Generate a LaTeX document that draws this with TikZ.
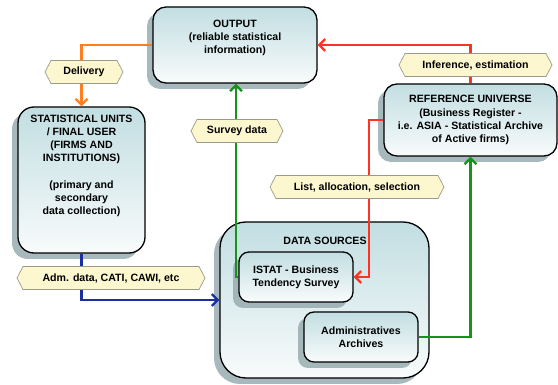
\documentclass[tikz,border=0pt]{standalone}
\usepackage{fontspec}
\setmainfont{Liberation Sans}
\usetikzlibrary{shapes.symbols,shadows,arrows.meta}
\definecolor{boxtop}{HTML}{C2DEE2}
\definecolor{boxbot}{HTML}{F8FBFB}
\definecolor{shad}{HTML}{98ADB0}
\definecolor{hexfill}{HTML}{FDF7CF}
\definecolor{hexline}{HTML}{9A9A8A}
\definecolor{corange}{HTML}{FF7F1E}
\definecolor{cred}{HTML}{FF3322}
\definecolor{cgreen}{HTML}{17921A}
\definecolor{cblue}{HTML}{1B2FA3}
\tikzset{
  box/.style={draw=black, line width=1.3pt, top color=boxtop, bottom color=boxbot,
    drop shadow={shadow xshift=-6pt, shadow yshift=-6pt, fill=shad, opacity=0.85},
    inner sep=0pt},
  txt/.style={font=\fontsize{10.6}{13.2}\selectfont\bfseries, align=center, inner sep=0pt},
  hex/.style={signal, signal to=east and west, signal pointer angle=125,
    draw=hexline, line width=0.7pt, fill=hexfill, inner sep=0pt,
    font=\fontsize{10.6}{13}\selectfont\bfseries, minimum height=23pt},
  conn/.style={line width=2.4pt, -{Straight Barb[length=6pt,width=12pt,line width=2.2pt]}}
}
\begin{document}
\begin{tikzpicture}[x=1pt,y=-1pt]
\useasboundingbox (0,0) rectangle (558,385);
% boxes
\node[box, rounded corners=13pt, minimum width=164pt, minimum height=76pt] (out) at (235,45) {};
\node[box, rounded corners=16pt, minimum width=127pt, minimum height=146pt] (stat) at (81.5,180) {};
\node[box, rounded corners=13pt, minimum width=173pt, minimum height=72pt] (ref) at (470.5,120) {};
\node[box, rounded corners=26pt, minimum width=209pt, minimum height=156pt] (ds) at (324.5,300) {};
\node[box, rounded corners=10pt, minimum width=114pt, minimum height=50pt] (istat) at (296,277) {};
\node[box, rounded corners=10pt, minimum width=114pt, minimum height=50pt] (adm) at (361,337) {};
% texts
\node[txt] (outt) at (235,38) {OUTPUT\\(reliable statistical\\information)};
\node[txt] (statt) at (81.5,166) {STATISTICAL UNITS\\/ FINAL USER\\(FIRMS AND\\INSTITUTIONS)\\[13.2pt](primary and\\secondary\\data collection)};
\node[txt] (reft) at (470.5,120) {REFERENCE UNIVERSE\\(Business Register -\\i.e. ASIA - Statistical Archive\\of Active firms)};
\node[txt] (dst) at (325,241) {DATA SOURCES};
\node[txt] (istatt) at (296,277) {ISTAT - Business\\Tendency Survey};
\node[txt] (admt) at (361,337) {Administratives\\Archives};
% connectors
\coordinate (rc) at (369,120);
\coordinate (gc) at (236,277);
\draw[conn, corange] (out.west) -| (stat.north);
\draw[conn, cred] (ref.north) |- (out.east);
\draw[conn, cred] (ref.west) -- (rc) |- (istat.east);
\draw[conn, cgreen] (istat.west) -- (gc) -- (gc |- out.south);
\draw[conn, cgreen] (adm.east) -| (ref.south);
\draw[conn, cblue] (stat.south) |- (ds.west);
% labels
\node[hex, minimum width=78pt] (hdel) at (84,72) {Delivery};
\node[hex, minimum width=92pt] (hsur) at (237,131) {Survey data};
\node[hex, minimum width=153pt] (hinf) at (475.5,65) {Inference, estimation};
\node[hex, minimum width=174pt] (hlist) at (357,187) {List, allocation, selection};
\node[hex, minimum width=188pt] (hadm) at (111,278) {Adm. data, CATI, CAWI, etc};
\end{tikzpicture}
\end{document}
